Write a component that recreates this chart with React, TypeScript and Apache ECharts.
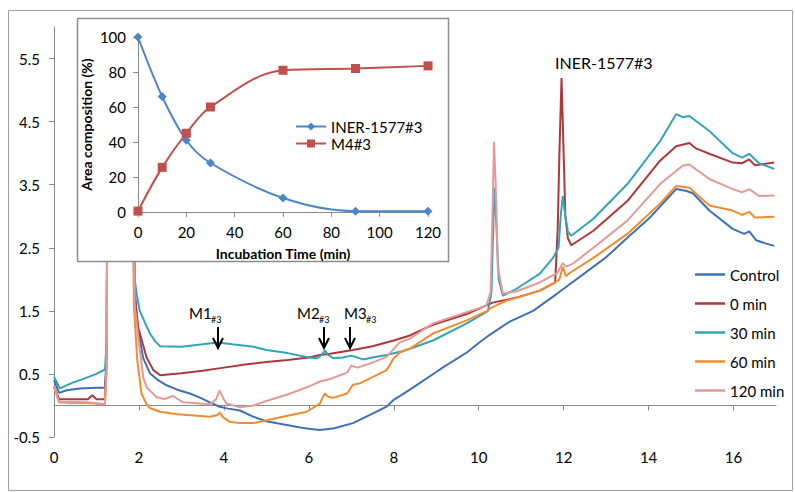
import React, { useEffect, useRef } from "react";
import * as echarts from "echarts";

// ---------- main chromatogram ----------
const xTicks = [0, 2, 4, 6, 8, 10, 12, 14, 16];
const yTicks = [-0.5, 0.5, 1.5, 2.5, 3.5, 4.5, 5.5];
const seriesNames = ["Control", "0 min", "30 min", "60 min", "120 min"];

const control: number[][] = [
  [0, 0.4], [0.12, 0.2], [0.3, 0.24], [0.6, 0.27], [1.0, 0.28], [1.2, 0.28], [1.24, 0.8], [1.27, 6.5],
  [1.83, 6.5], [1.9, 1.8], [1.98, 1.2], [2.1, 0.75], [2.26, 0.51], [2.45, 0.4], [2.65, 0.32], [2.9, 0.25],
  [3.2, 0.19], [3.45, 0.12], [3.67, 0.05], [3.9, -0.02], [4.1, -0.05], [4.38, -0.08], [4.7, -0.18],
  [5.0, -0.25], [5.48, -0.31], [5.8, -0.35], [6.0, -0.37], [6.26, -0.39], [6.6, -0.36], [7.04, -0.28],
  [7.5, -0.13], [7.83, -0.02], [8.0, 0.09], [8.38, 0.25], [9.0, 0.53], [9.15, 0.6], [9.72, 0.84],
  [10.0, 0.99], [10.26, 1.12], [10.73, 1.33], [11.28, 1.5], [11.84, 1.77], [12.0, 1.85], [12.6, 2.15],
  [13.0, 2.35], [13.5, 2.66], [14.02, 2.97], [14.4, 3.25], [14.65, 3.43], [14.9, 3.4], [15.05, 3.36],
  [15.43, 3.09], [15.98, 2.8], [16.25, 2.72], [16.37, 2.76], [16.53, 2.62], [16.75, 2.57], [16.96, 2.53],
];

const min0: number[][] = [
  [0, 0.3], [0.12, 0.1], [0.4, 0.1], [0.8, 0.1], [0.9, 0.16], [1.0, 0.1], [1.2, 0.1], [1.24, 0.8],
  [1.27, 6.5], [1.83, 6.5], [1.9, 1.77], [1.98, 1.24], [2.18, 0.76], [2.34, 0.56], [2.5, 0.48], [3.0, 0.51],
  [3.5, 0.55], [4.0, 0.6], [4.5, 0.65], [5.0, 0.69], [5.5, 0.72], [6.0, 0.76], [6.26, 0.8], [6.5, 0.82],
  [7.04, 0.88], [7.5, 0.94], [8.0, 1.03], [8.38, 1.11], [8.92, 1.28], [9.72, 1.45], [10.33, 1.63],
  [10.89, 1.71], [11.44, 1.82], [11.75, 1.93], [11.8, 1.95], [11.86, 2.8], [11.9, 4.0], [11.95, 5.19],
  [12.0, 4.0], [12.04, 3.0], [12.1, 2.65], [12.18, 2.54], [12.7, 2.77], [13.5, 3.24], [14.27, 3.88],
  [14.65, 4.11], [14.96, 4.16], [15.1, 4.08], [15.43, 3.99], [15.98, 3.85], [16.2, 3.84], [16.37, 3.9],
  [16.5, 3.81], [16.96, 3.85],
];

const min30: number[][] = [
  [0, 0.45], [0.14, 0.27], [0.4, 0.35], [0.8, 0.45], [1.0, 0.5], [1.2, 0.57], [1.24, 1.0], [1.27, 6.5],
  [1.84, 6.5], [1.88, 2.1], [1.95, 1.75], [2.02, 1.5], [2.15, 1.3], [2.26, 1.14], [2.38, 1.02], [2.5, 0.94],
  [3.0, 0.93], [3.5, 0.97], [3.85, 1.0], [4.2, 0.97], [4.7, 0.93], [5.0, 0.88], [5.5, 0.83], [6.0, 0.76],
  [6.2, 0.75], [6.3, 0.8], [6.38, 0.87], [6.46, 0.8], [6.57, 0.75], [6.8, 0.76], [7.0, 0.79], [7.28, 0.73],
  [7.5, 0.76], [7.83, 0.8], [8.14, 0.85], [8.38, 0.9], [8.92, 1.03], [9.72, 1.3], [10.22, 1.5], [10.3, 1.8],
  [10.35, 3.0], [10.38, 3.45], [10.42, 2.8], [10.47, 2.0], [10.57, 1.74], [10.89, 1.85], [11.44, 2.09],
  [11.75, 2.34], [11.88, 2.5], [11.93, 3.0], [11.98, 3.32], [12.04, 3.0], [12.1, 2.75], [12.18, 2.69],
  [12.7, 2.96], [13.5, 3.51], [14.27, 4.19], [14.65, 4.62], [14.8, 4.57], [14.96, 4.59], [15.43, 4.35],
  [15.98, 4.0], [16.2, 3.93], [16.37, 3.99], [16.6, 3.84], [16.96, 3.75],
];

const min60: number[][] = [
  [0, 0.3], [0.12, 0.05], [0.4, 0.04], [0.8, 0.04], [1.2, 0.02], [1.24, 0.6], [1.27, 6.5], [1.83, 6.5],
  [1.88, 1.6], [1.96, 0.72], [2.06, 0.19], [2.18, 0.02], [2.26, -0.04], [2.5, -0.1], [2.9, -0.14],
  [3.3, -0.16], [3.67, -0.18], [3.85, -0.15], [3.9, -0.11], [3.97, -0.18], [4.14, -0.26], [4.38, -0.28],
  [4.7, -0.28], [5.25, -0.2], [5.95, -0.1], [6.26, 0.03], [6.32, 0.12], [6.38, 0.19], [6.45, 0.14],
  [6.57, 0.12], [6.9, 0.19], [7.04, 0.33], [7.2, 0.35], [7.5, 0.45], [7.83, 0.56], [8.0, 0.75],
  [8.14, 0.84], [8.38, 0.9], [8.92, 1.14], [9.72, 1.35], [10.2, 1.5], [10.3, 1.55], [10.65, 1.66],
  [11.44, 1.82], [11.75, 1.93], [11.9, 2.0], [11.98, 2.2], [12.05, 2.05], [12.14, 2.1], [12.7, 2.34],
  [13.5, 2.72], [14.27, 3.2], [14.65, 3.48], [14.96, 3.45], [15.43, 3.17], [15.98, 3.09], [16.2, 3.02],
  [16.37, 3.07], [16.5, 2.98], [16.96, 2.99],
];

const min120: number[][] = [
  [0, 0.3], [0.12, 0.05], [0.4, 0.06], [0.8, 0.05], [1.2, 0.02], [1.24, 0.6], [1.27, 6.5], [1.83, 6.5],
  [1.9, 1.6], [1.98, 1.1], [2.1, 0.45], [2.18, 0.29], [2.42, 0.13], [2.6, 0.1], [2.8, 0.15], [3.04, 0.05],
  [3.67, 0.02], [3.82, 0.1], [3.9, 0.24], [3.98, 0.12], [4.06, 0.03], [4.38, -0.03], [4.7, 0.0],
  [5.0, 0.07], [5.48, 0.17], [6.0, 0.3], [6.26, 0.38], [6.5, 0.42], [6.9, 0.52], [7.0, 0.63], [7.15, 0.6],
  [7.5, 0.68], [7.83, 0.77], [8.14, 1.0], [8.38, 1.06], [8.92, 1.3], [9.72, 1.48], [10.18, 1.58],
  [10.28, 1.8], [10.33, 3.2], [10.36, 4.18], [10.4, 3.5], [10.45, 2.2], [10.57, 1.77], [10.89, 1.81],
  [11.44, 1.95], [11.85, 2.1], [11.98, 2.26], [12.05, 2.2], [12.2, 2.24], [12.7, 2.5], [13.5, 2.93],
  [14.27, 3.51], [14.8, 3.8], [14.96, 3.82], [15.43, 3.59], [15.98, 3.43], [16.2, 3.38], [16.37, 3.43],
  [16.6, 3.32], [16.96, 3.33],
];

const mainData = [control, min0, min30, min60, min120];
const mainColors = ["#3f70b6", "#ad383c", "#33a3b7", "#f28c2e", "#e39a98"];

// ---------- inset ----------
const insetTimes = [0, 10, 20, 30, 60, 90, 120];
const inerPct = [100, 66, 41, 28, 8, 0.5, 0.5];
const m4Pct = [0.5, 25.5, 45, 60, 81, 82, 83.5];

const FONT = "Lato, 'Open Sans', sans-serif";

export default function App() {
  const ref = useRef<HTMLDivElement>(null);
  useEffect(() => {
    if (!ref.current) return;
    const chart = echarts.init(ref.current, undefined, { renderer: "svg" });
    const axisGrey = "#8a8a8a";
    const mLabel = (txt: string, left: number) => [
      { type: "text", z: 10, left, top: 305, style: { text: txt, fontSize: 15, fill: "#000", fontFamily: FONT } },
      { type: "text", z: 10, left: left + 22, top: 315, style: { text: "#3", fontSize: 9, fill: "#000", fontFamily: FONT } },
    ];
    const option: any = {
      animation: false,
      backgroundColor: "#ffffff",
      textStyle: { fontFamily: FONT },
      grid: [
        { left: 54, right: 19, top: 27, bottom: 55 },
        { left: 138, top: 37, width: 290, height: 175 },
      ],
      xAxis: [
        {
          gridIndex: 0, type: "value", min: 0, max: 17,
          axisLine: { lineStyle: { color: axisGrey } },
          axisTick: { show: true, customValues: xTicks, length: 5, lineStyle: { color: axisGrey } },
          axisLabel: { customValues: xTicks, color: "#000", fontSize: 15, margin: 12, fontFamily: FONT },
          splitLine: { show: false },
        },
        {
          gridIndex: 1, type: "value", min: 0, max: 120, interval: 20, z: 3,
          axisLine: { lineStyle: { color: axisGrey } },
          axisTick: { show: true, length: 5, lineStyle: { color: axisGrey } },
          axisLabel: { color: "#000", fontSize: 15, margin: 12, fontFamily: FONT },
          splitLine: { show: false },
          name: "Incubation Time (min)", nameLocation: "middle", nameGap: 34,
          nameTextStyle: { color: "#000", fontSize: 14, fontWeight: "bold", fontFamily: FONT },
        },
      ],
      yAxis: [
        {
          gridIndex: 0, type: "value", min: -0.5, max: 6,
          axisLine: { show: true, lineStyle: { color: axisGrey } },
          axisTick: { show: true, customValues: yTicks, length: 5, lineStyle: { color: axisGrey } },
          axisLabel: { customValues: yTicks, color: "#000", fontSize: 15, margin: 14, fontFamily: FONT },
          splitLine: { show: false },
        },
        {
          gridIndex: 1, type: "value", min: 0, max: 100, interval: 20, z: 3,
          axisLine: { show: true, lineStyle: { color: axisGrey } },
          axisTick: { show: true, length: 5, lineStyle: { color: axisGrey } },
          axisLabel: { color: "#000", fontSize: 15, margin: 12, fontFamily: FONT },
          splitLine: { show: false },
          name: "Area composition (%)", nameLocation: "middle", nameGap: 45,
          nameTextStyle: { color: "#000", fontSize: 14, fontWeight: "bold", fontFamily: FONT },
        },
      ],
      legend: [
        {
          data: seriesNames, orient: "vertical", left: 690, top: 262, itemWidth: 30, itemHeight: 14,
          itemGap: 14, icon: "path://M0,6 L30,6 L30,8.5 L0,8.5 Z",
          textStyle: { color: "#000", fontSize: 15, fontFamily: FONT },
        },
        {
          data: ["INER-1577#3", "M4#3"], orient: "vertical", left: 290, top: 114, itemWidth: 30,
          itemHeight: 10, itemGap: 2, z: 6,
          textStyle: { color: "#000", fontSize: 15, lineHeight: 15, fontFamily: FONT },
        },
      ],
      graphic: [
        {
          type: "rect", z: 0, silent: true,
          shape: { x: 8.5, y: 10.5, width: 784, height: 480 },
          style: { fill: "none", stroke: "#a0a0a0", lineWidth: 1 },
        },
        {
          type: "rect", z: 2, silent: true,
          shape: { x: 77.5, y: 18.5, width: 371, height: 243 },
          style: { fill: "#ffffff", stroke: "#8c8c8c", lineWidth: 1.5 },
        },
        { type: "text", z: 10, left: 555, top: 54, style: { text: "INER-1577#3", fontSize: 16, fill: "#000", fontFamily: FONT } },
        ...mLabel("M1", 189),
        ...mLabel("M2", 297),
        ...mLabel("M3", 344),
        ...[218, 324, 350].flatMap((ax) => [
          { type: "line", z: 10, shape: { x1: ax, y1: 327, x2: ax, y2: 348 }, style: { stroke: "#000", lineWidth: 2 } },
          { type: "polyline", z: 10, shape: { points: [[ax - 5, 338], [ax, 348], [ax + 5, 338]] }, style: { stroke: "#000", fill: "none", lineWidth: 2 } },
        ]),
      ],
      series: [
        ...seriesNames.map((name, i) => ({
          name, type: "line", xAxisIndex: 0, yAxisIndex: 0, z: 1, data: mainData[i],
          showSymbol: false, symbol: "none", clip: true,
          lineStyle: { color: mainColors[i], width: 2 }, itemStyle: { color: mainColors[i] },
        })),
        {
          name: "INER-1577#3", type: "line", xAxisIndex: 1, yAxisIndex: 1, z: 5, smooth: 0.35,
          data: insetTimes.map((t, i) => [t, inerPct[i]]),
          symbol: "diamond", symbolSize: 9,
          lineStyle: { color: "#4a86c8", width: 2 }, itemStyle: { color: "#4a86c8" },
        },
        {
          name: "M4#3", type: "line", xAxisIndex: 1, yAxisIndex: 1, z: 5, smooth: 0.35,
          data: insetTimes.map((t, i) => [t, m4Pct[i]]),
          symbol: "rect", symbolSize: 9,
          lineStyle: { color: "#c0504d", width: 2 }, itemStyle: { color: "#c0504d" },
        },
      ],
    };
    chart.setOption(option);
    return () => chart.dispose();
  }, []);
  return <div ref={ref} style={{ width: 795, height: 492, position: "absolute", left: 0, top: 0 }} />;
}
